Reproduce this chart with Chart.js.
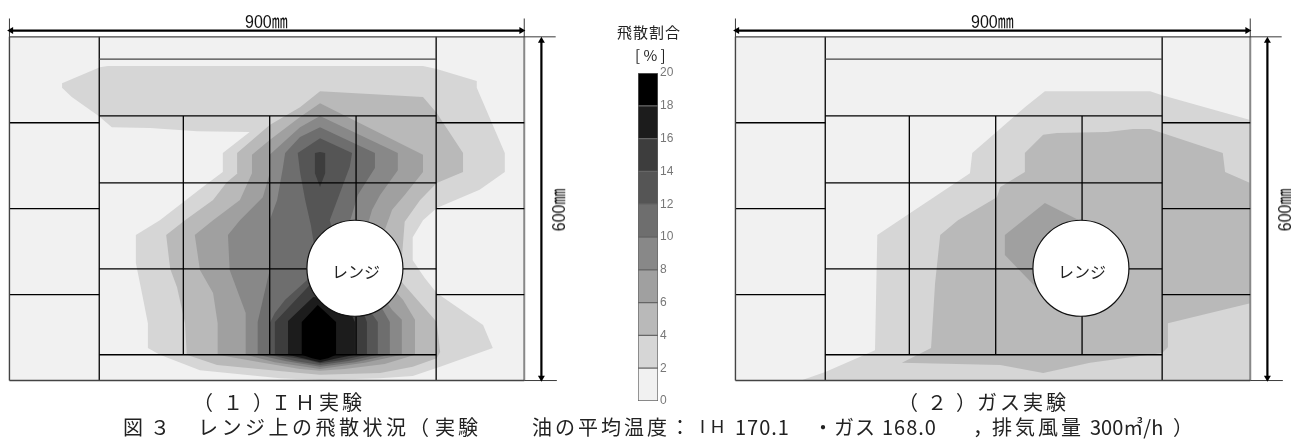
<!DOCTYPE html>
<html>
<head>
  <meta charset="utf-8">
  <title>レンジ上の飛散状況</title>
  <script src="https://cdn.jsdelivr.net/npm/chart.js"></script>
  <style>
    html, body { margin: 0; padding: 0; background: #fff; overflow: hidden; width: 1291px; height: 439px; }
    canvas { position: absolute; }
    #ihChart { left: -2px; top: -9px; filter: blur(0.3px); }
    #gasChart { left: 724px; top: -9px; filter: blur(0.3px); }
    #scaleChart { left: 620px; top: 60px; filter: blur(0.6px); }
    .t { position: absolute; white-space: pre; line-height: 1; color: #222; font-family: "Noto Sans CJK JP", sans-serif; font-size: 20px; }
    .dim { font-family: "Liberation Sans", "Noto Sans CJK JP", sans-serif; font-size: 16px; color: #111; transform: scaleY(1.15); }
    .dim.rot { transform: rotate(-90deg) scaleY(1.15); transform-origin: center; }
  </style>
</head>
<body>
  <canvas id="ihChart" width="572" height="401"></canvas>
  <canvas id="gasChart" width="572" height="401"></canvas>
  <canvas id="scaleChart" width="70" height="355"></canvas>

  <!-- 寸法 -->
  <div class="t dim" style="left:245px;top:14px">900㎜</div>
  <div class="t dim" style="left:971px;top:14px">900㎜</div>
  <div class="t dim rot" style="left:538px;top:202px">600㎜</div>
  <div class="t dim rot" style="left:1264px;top:202px">600㎜</div>
  <div class="t" style="left:332px;top:263px;font-size:16px">レンジ</div>
  <div class="t" style="left:1058px;top:263px;font-size:16px">レンジ</div>

  <!-- 凡例の見出し -->
  <div class="t" style="left:617px;top:24px;font-size:15px;letter-spacing:1px">飛散割合</div>
  <div class="t" style="left:635px;top:47px;font-size:15px">[ % ]</div>

  <!-- キャプション -->
  <div class="t" style="left:193px;top:392px"><span style="letter-spacing:10px">（１</span><span style="letter-spacing:-2px">）</span><span style="letter-spacing:4px">ＩＨ</span><span style="letter-spacing:3px">実験</span></div>
  <div class="t" style="left:898px;top:392px"><span style="letter-spacing:9px">（２</span><span style="letter-spacing:1px">）</span><span style="letter-spacing:3px">ガス実験</span></div>
  <div class="t" style="left:123px;top:417px;letter-spacing:7px">図３</div>
  <div class="t" style="left:198px;top:417px;letter-spacing:3.5px">レンジ上の飛散状況</div>
  <div class="t" style="left:409px;top:417px"><span style="letter-spacing:6px">（</span><span style="letter-spacing:3px">実験</span></div>
  <div class="t" style="left:532px;top:417px;letter-spacing:3px">油の平均温度：</div>
  <div class="t" style="left:700px;top:418px;font-size:18px;letter-spacing:6px;font-family:'Liberation Sans'">IH</div>
  <div class="t" style="left:735px;top:417px;letter-spacing:1px">170.1</div>
  <div class="t" style="left:813px;top:417px;letter-spacing:1px">・ガス</div>
  <div class="t" style="left:882px;top:417px;letter-spacing:1px">168.0</div>
  <div class="t" style="left:973px;top:417px">，</div>
  <div class="t" style="left:992px;top:417px;letter-spacing:3px">排気風量</div>
  <div class="t" style="left:1090px;top:417px">300㎥/h</div>
  <div class="t" style="left:1173px;top:417px">）</div>

  <script>
    // 飛散割合の階級 (2%刻み)
    var levelTicks = [0, 2, 4, 6, 8, 10, 12, 14, 16, 18, 20];
    var levelBands = [2, 2, 2, 2, 2, 2, 2, 2, 2, 2];
    var levelColors = ['#f1f1f1', '#d6d6d6', '#b9b9b9', '#a0a0a0', '#888888', '#6e6e6e', '#555555', '#3d3d3d', '#1c1c1c', '#000000'];

    // IH実験の等高線 [x mm, y mm]
    var ihOver2 = [[92,511],[92,519],[158,547],[172,549],[723,549],[747,544],[817,523],[817,511],[866,397],[866,364],[822,333],[747,301],[723,280],[705,250],[705,210],[726,179],[747,153],[828,97],[845,57],[753,24],[705,8],[648,4],[543,1],[473,4],[333,18],[263,45],[242,57],[242,100],[233,146],[221,205],[221,254],[263,280],[342,341],[373,364],[373,397],[420,434],[328,435],[246,441],[179,442],[156,462],[109,495]];
    var ihOver4 = [[543,505],[723,495],[747,467],[793,397],[793,364],[747,345],[718,315],[691,277],[683,175],[747,102],[753,50],[747,39],[705,24],[648,13],[543,10],[508,13],[363,27],[310,45],[307,100],[293,163],[281,195],[274,254],[307,280],[356,315],[380,346],[399,362],[398,397],[455,446],[508,477]];
    var ihOver6 = [[543,484],[723,394],[723,364],[691,324],[669,298],[653,254],[656,175],[688,141],[709,106],[709,45],[656,29],[586,20],[543,17],[508,20],[438,32],[364,45],[364,100],[356,153],[333,193],[324,254],[356,280],[403,315],[424,362],[424,394],[455,420],[508,460]];
    var ihOver8 = [[543,462],[679,397],[679,367],[648,324],[634,298],[621,254],[639,167],[669,123],[686,106],[686,45],[621,31],[543,20],[464,32],[413,45],[413,118],[385,193],[382,254],[403,280],[443,320],[455,362],[455,394],[508,442]];
    var ihOver10 = [[543,442],[639,397],[639,371],[609,324],[595,277],[612,193],[648,132],[665,102],[665,45],[604,32],[543,24],[482,34],[434,45],[434,102],[455,193],[455,280],[468,315],[478,371],[482,397],[508,425]];
    var ihOver12 = [[543,423],[599,397],[595,373],[560,280],[578,210],[604,158],[644,102],[644,45],[592,34],[543,27],[499,34],[455,45],[455,100],[464,118],[482,141],[520,175],[534,228],[527,271],[517,315],[508,364],[504,397]];
    var ihOver14Top = [[543,399],[552,397],[552,362],[543,338],[534,362],[534,397]];
    var ihOver14 = [[525,167],[604,158],[625,102],[625,45],[581,36],[543,30],[521,36],[464,45],[464,102]];
    var ihOver16 = [[531,146],[586,141],[604,102],[604,45],[569,38],[543,32],[517,38],[487,45],[487,104]];
    var ihOver18 = [[539,132],[571,102],[571,45],[557,39],[543,36],[529,39],[511,45],[511,102]];

    // ガス実験の等高線 [x mm, y mm]
    var gasOver2 = [[117,1],[157,15],[244,53],[248,254],[305,292],[410,362],[414,397],[506,477],[541,505],[725,505],[746,498],[900,455],[900,0],[117,0]];
    var gasOver4 = [[506,397],[506,364],[463,338],[457,320],[389,280],[358,254],[349,170],[342,57],[291,31],[463,27],[538,13],[620,31],[746,48],[756,58],[756,100],[900,135],[900,345],[856,364],[852,397],[725,439],[695,439],[650,434],[562,432],[538,429]];
    var gasOver6 = [[541,310],[606,277],[594,210],[550,141],[527,161],[471,219],[471,254]];

    // 天板の区画線 [x1, y1, x2, y2] (mm)
    var panelLines = [
      [157,0,157,600],[746,0,746,600],
      [0,150,157,150],[0,300,157,300],[0,450,157,450],
      [746,150,900,150],[746,300,900,300],[746,450,900,450],
      [157,45,746,45],[157,195,746,195],[157,345,746,345],[157,462,746,462],
      [304,45,304,462],[455,45,455,462],[606,45,606,462]
    ];
    var frameLines = [[0,0,0,600],[0,600,900,600],[0,0,900,0],[157,561,746,561]];
    var rightEdge = [900,0,900,600];
    var leaderLines = [[0,600,0,632],[900,600,900,632],[900,600,955,600],[900,0,957,0]];
    var widthArrow = [[3,611],[895,611]];
    var heightArrow = [[930,593],[930,5]];
    var burner = [604, 196];

    function toPoints(list) {
      return list.map(function(p) { return { x: p[0], y: p[1] }; });
    }

    function contour(points, color) {
      return { data: toPoints(points), showLine: true, fill: 'shape', backgroundColor: color, borderWidth: 0, pointRadius: 0 };
    }

    function segment(s, color, width) {
      return { data: [{ x: s[0], y: s[1] }, { x: s[2], y: s[3] }], showLine: true, fill: false, borderColor: color, borderWidth: width, pointRadius: 0 };
    }

    function arrow(points, rotations) {
      return {
        data: toPoints(points), showLine: true, fill: false, borderColor: '#000', borderWidth: 2.2,
        pointStyle: 'triangle', pointRadius: 4, pointRotation: rotations,
        pointBackgroundColor: '#000', pointBorderColor: '#000', pointBorderWidth: 0
      };
    }

    function floorPanel(canvasId, contours) {
      // 下から順に重ねる
      var layers = [contour([[0,0],[900,0],[900,600],[0,600]], levelColors[0])];
      contours.forEach(function(c) { layers.push(contour(c[0], c[1])); });
      layers.push(segment(rightEdge, '#888', 2));
      panelLines.forEach(function(s) { layers.push(segment(s, '#000', 1.3)); });
      frameLines.forEach(function(s) { layers.push(segment(s, '#444', 1.4)); });
      leaderLines.forEach(function(s) { layers.push(segment(s, '#222', 0.9)); });
      layers.push(arrow(widthArrow, [-90, 90]));
      layers.push(arrow(heightArrow, [0, 180]));
      layers.push({
        data: [{ x: burner[0], y: burner[1] }], pointRadius: 48, pointStyle: 'circle',
        pointBackgroundColor: '#fff', pointBorderColor: '#111', pointBorderWidth: 1.2
      });

      new Chart(document.getElementById(canvasId), {
        type: 'scatter',
        data: { datasets: layers.reverse() },
        options: {
          responsive: false,
          animation: false,
          layout: { padding: 0, autoPadding: false },
          plugins: { legend: { display: false }, tooltip: { enabled: false } },
          scales: {
            x: { type: 'linear', min: -20, max: 980, display: false },
            y: { type: 'linear', min: -20, max: 680, display: false }
          }
        }
      });
    }

    floorPanel('ihChart', [
      [ihOver2, levelColors[1]], [ihOver4, levelColors[2]], [ihOver6, levelColors[3]],
      [ihOver8, levelColors[4]], [ihOver10, levelColors[5]], [ihOver12, levelColors[6]],
      [ihOver14Top, levelColors[7]], [ihOver14, levelColors[7]],
      [ihOver16, levelColors[8]], [ihOver18, levelColors[9]]
    ]);

    floorPanel('gasChart', [
      [gasOver2, levelColors[1]], [gasOver4, levelColors[2]], [gasOver6, levelColors[3]]
    ]);

    // カラースケール
    new Chart(document.getElementById('scaleChart'), {
      type: 'bar',
      data: {
        labels: ['飛散割合'],
        datasets: levelBands.map(function(b, i) {
          return { data: [b], backgroundColor: levelColors[i], borderColor: '#666', borderWidth: 1, borderSkipped: false };
        })
      },
      options: {
        responsive: false,
        animation: false,
        barPercentage: 1,
        categoryPercentage: 1,
        layout: { padding: { left: 18, right: 0, top: 13, bottom: 14 } },
        plugins: { legend: { display: false }, tooltip: { enabled: false } },
        scales: {
          x: { stacked: true, display: false },
          y: {
            stacked: true, position: 'right', min: 0, max: 20,
            afterFit: function(s) { s.width = 32; },
            afterBuildTicks: function(s) { s.ticks = levelTicks.map(function(v) { return { value: v }; }); },
            grid: { display: false, drawTicks: false },
            border: { display: false },
            ticks: { color: '#777', padding: 2, font: { family: 'Liberation Sans', size: 12 }, autoSkip: false }
          }
        }
      }
    });
  </script>
</body>
</html>
